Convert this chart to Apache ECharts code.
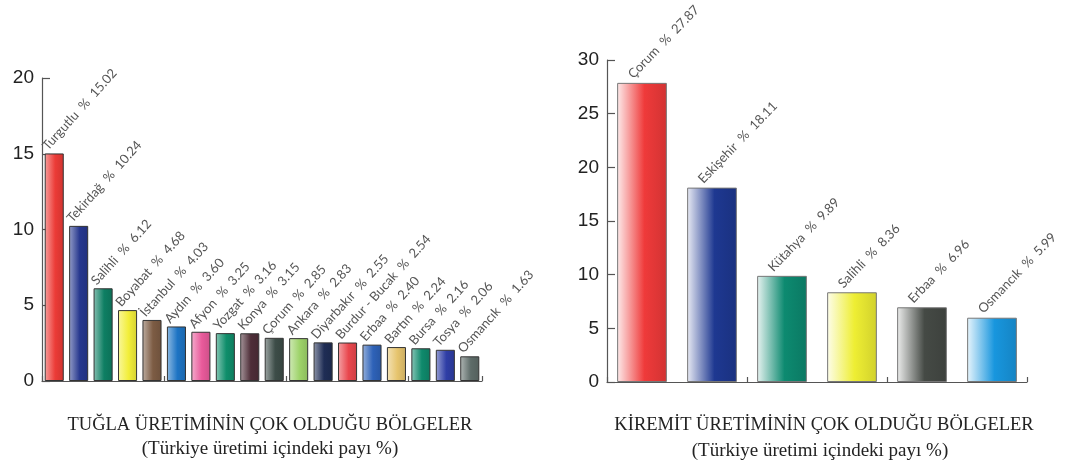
<!DOCTYPE html>
<html>
<head>
<meta charset="utf-8">
<script src="https://cdn.jsdelivr.net/npm/echarts@6/dist/echarts.min.js"></script>
<style>
  html, body { margin: 0; padding: 0; background: #ffffff; }
  #chart { width: 1069px; height: 464px; }
</style>
</head>
<body>
<div id="chart"></div>
<script>
// Brick production regions (share of national output, %)
const brickRegions = ['Turgutlu', 'Tekirdağ', 'Salihli', 'Boyabat', 'İstanbul', 'Aydın', 'Afyon', 'Yozgat', 'Konya',
  'Çorum', 'Ankara', 'Diyarbakır', 'Burdur - Bucak', 'Erbaa', 'Bartın', 'Bursa', 'Tosya', 'Osmancık'];
const brickShares = [15.02, 10.24, 6.12, 4.68, 4.03, 3.60, 3.25, 3.16, 3.15, 2.85, 2.83, 2.55, 2.54, 2.40, 2.24, 2.16, 2.06, 1.63];
const brickColors = ['#ec3b37', '#27388f', '#0e7f63', '#f2ee3a', '#7d5c44', '#1d74c4', '#e95a9b', '#0f8e6b', '#4e2e38',
  '#3d4d48', '#9ed36a', '#1f2d55', '#e9474d', '#2e62b8', '#e6c46d', '#0f8a6c', '#2f3ea6', '#5e6c69'];

// Roof tile production regions (share of national output, %)
const tileRegions = ['Çorum', 'Eskişehir', 'Kütahya', 'Salihli', 'Erbaa', 'Osmancık'];
const tileShares = [27.87, 18.11, 9.89, 8.36, 6.96, 5.99];
const tileColors = ['#ef3a3a', '#1e3891', '#0d8a70', '#eeee33', '#454a45', '#1896de'];

const brickTicks = [0, 5, 10, 15, 20];
const tileTicks = [0, 5, 10, 15, 20, 25, 30];

const brickTitle = 'TUĞLA ÜRETİMİNİN ÇOK OLDUĞU BÖLGELER';
const tileTitle = 'KİREMİT ÜRETİMİNİN ÇOK OLDUĞU BÖLGELER';
const subTitle = '(Türkiye üretimi içindeki payı %)';

function hexToRgb(h) {
  const n = parseInt(h.slice(1), 16);
  return [(n >> 16) & 255, (n >> 8) & 255, n & 255];
}
function mix(h, target, t) {
  const c = hexToRgb(h);
  const r = c.map((v, i) => Math.round(v + (target[i] - v) * t));
  return 'rgb(' + r.join(',') + ')';
}
function barFill(h, light) {
  return new echarts.graphic.LinearGradient(0, 0, 1, 0, [
    { offset: 0, color: mix(h, [255, 255, 255], light) },
    { offset: 0.55, color: h },
    { offset: 1, color: mix(h, [0, 0, 0], 0.12) }
  ]);
}

const axisGray = '#555';
const labelFont = 'Lato, "Open Sans", sans-serif';
const serifFont = '"Liberation Serif", "Times New Roman", serif';

function makeData(names, values, colors, light, border) {
  return values.map((v, i) => ({
    name: names[i],
    value: v,
    itemStyle: { color: barFill(colors[i], light), borderColor: border, borderWidth: 1 }
  }));
}

const chart = echarts.init(document.getElementById('chart'), null, { renderer: 'canvas' });

function yAxis(gridIndex, ticks) {
  return {
    type: 'value', gridIndex: gridIndex,
    min: ticks[0], max: ticks[ticks.length - 1], interval: ticks[1] - ticks[0],
    axisLine: { show: true, lineStyle: { color: axisGray, width: 1.2 } },
    axisTick: { show: true, inside: true, length: 8, lineStyle: { color: axisGray, width: 1.2 } },
    axisLabel: { color: '#222', fontSize: 19, fontFamily: '"Liberation Sans", Arial, sans-serif', margin: 8 },
    splitLine: { show: false }
  };
}
function xAxis(gridIndex, names) {
  return {
    type: 'category', gridIndex: gridIndex, data: names,
    axisLine: { show: true, lineStyle: { color: axisGray, width: 1.2 } },
    axisTick: { show: true, inside: true, length: 5, lineStyle: { color: axisGray, width: 1.2 } },
    axisLabel: { show: false },
    splitLine: { show: false }
  };
}
function valueLabel(offset, rotate) {
  return {
    show: true,
    position: offset,
    rotate: rotate,
    align: 'left',
    verticalAlign: 'bottom',
    color: '#555',
    fontSize: 13,
    fontFamily: labelFont,
    formatter: p => p.name + '  %  ' + p.value.toFixed(2)
  };
}

chart.setOption({
  animation: false,
  grid: [
    { left: 42, top: 78, width: 440, height: 303 },
    { left: 607, top: 60, width: 420, height: 322 }
  ],
  xAxis: [xAxis(0, brickRegions), xAxis(1, tileRegions)],
  yAxis: [yAxis(0, brickTicks), yAxis(1, tileTicks)],
  series: [
    {
      type: 'bar', xAxisIndex: 0, yAxisIndex: 0,
      barCategoryGap: '22%',
      data: makeData(brickRegions, brickShares, brickColors, 0.5, '#333'),
      label: valueLabel([5, -1], 48)
    },
    {
      type: 'bar', xAxisIndex: 1, yAxisIndex: 1,
      barCategoryGap: '29%',
      data: makeData(tileRegions, tileShares, tileColors, 0.9, '#777'),
      label: valueLabel([18, -2], 46)
    }
  ],
  graphic: [
    { type: 'text', x: 270, y: 425, style: { text: brickTitle, fill: '#222', font: '18.5px ' + serifFont, align: 'center', verticalAlign: 'middle' } },
    { type: 'text', x: 270, y: 449, style: { text: subTitle, fill: '#222', font: '19px ' + serifFont, align: 'center', verticalAlign: 'middle' } },
    { type: 'text', x: 824, y: 425, style: { text: tileTitle, fill: '#222', font: '18.5px ' + serifFont, align: 'center', verticalAlign: 'middle' } },
    { type: 'text', x: 820, y: 451, style: { text: subTitle, fill: '#222', font: '19px ' + serifFont, align: 'center', verticalAlign: 'middle' } }
  ]
});
</script>
</body>
</html>
